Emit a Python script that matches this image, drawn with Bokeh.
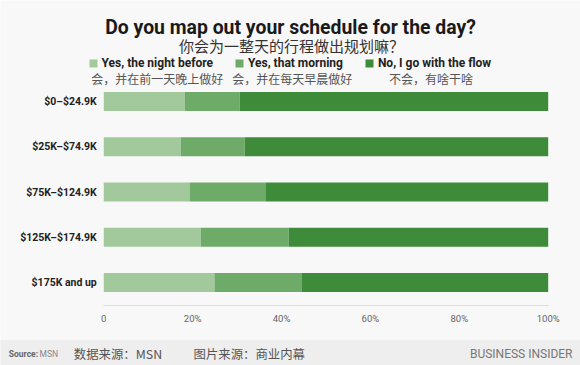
from bokeh.plotting import figure
from bokeh.models import (Range1d, Label, Legend, LegendItem,
                          BoxAnnotation, FixedTicker)
from bokeh.embed import file_html
from bokeh.resources import INLINE

# ---- data ----
categories = ["$0–$24.9K", "$25K–$74.9K", "$75K–$124.9K", "$125K–$174.9K", "$175K and up"]
night_before = [18.2, 17.3, 19.3, 21.8, 24.9]
that_morning = [12.4, 14.4, 17.2, 19.8, 19.7]
go_with_flow = [69.4, 68.3, 63.5, 58.4, 55.4]
series_keys = ["night_before", "that_morning", "go_with_flow"]
legend_en = ["Yes, the night before", "Yes, that morning", "No, I go with the flow"]
legend_zh = ["会，并在前一天晚上做好", "会，并在每天早晨做好", "不会，有啥干啥"]
tick_values = [0, 20, 40, 60, 80, 100]
tick_labels = ["0", "20%", "40%", "60%", "80%", "100%"]
title_en = "Do you map out your schedule for the day?"
title_zh = "你会为一整天的行程做出规划嘛？"

colors = ["#a1c99c", "#6eab69", "#3e8c39"]
BG = "#f8f8f8"
FONT = "Roboto"
CJK = "Noto Sans CJK SC"

positions = list(range(len(categories)))  # row index, 0 = top row
source = dict(pos=positions, night_before=night_before,
              that_morning=that_morning, go_with_flow=go_with_flow)

W, H = 580, 365
p = figure(width=W, height=H, output_backend="svg", toolbar_location=None,
           x_range=Range1d(-23.24, 107.27), y_range=Range1d(5.834, -2.232),
           min_border=0, min_border_left=0, min_border_right=0,
           min_border_top=0, min_border_bottom=0)
p.background_fill_color = BG
p.border_fill_color = BG
p.outline_line_color = None
p.xgrid.grid_line_color = None
p.ygrid.grid_line_color = None

# footer band (screen units, y measured up from the bottom of the frame)
p.add_layout(BoxAnnotation(left=-5, right=W + 5, top=25.5, bottom=-5,
                           left_units="screen", right_units="screen",
                           top_units="screen", bottom_units="screen",
                           fill_color="#eeeeee", fill_alpha=1, line_color=None,
                           level="underlay"))

renderers = p.hbar_stack(series_keys, y="pos", height=0.42, color=colors,
                         line_color=None, source=source)

# axes drawn at fixed data locations inside the frame
xa = p.xaxis[0]
xa.fixed_location = len(categories) - 0.5
xa.bounds = (0, 100)
xa.ticker = FixedTicker(ticks=tick_values)
xa.major_label_overrides = {v: l for v, l in zip(tick_values, tick_labels)}
xa.axis_line_color = "#dddddd"
xa.major_tick_line_color = None
xa.minor_tick_line_color = None
xa.major_tick_out = 0
xa.major_tick_in = 0
xa.major_label_standoff = 8
xa.major_label_text_font = FONT
xa.major_label_text_font_size = "9.5px"
xa.major_label_text_color = "#666666"

ya = p.yaxis[0]
ya.fixed_location = 0
ya.ticker = FixedTicker(ticks=positions)
ya.major_label_overrides = {i: c for i, c in zip(positions, categories)}
ya.axis_line_color = None
ya.major_tick_line_color = None
ya.minor_tick_line_color = None
ya.major_tick_out = 0
ya.major_tick_in = 0
ya.major_label_standoff = 7
ya.major_label_text_font = FONT
ya.major_label_text_font_style = "bold"
ya.major_label_text_font_size = "10.5px"
ya.major_label_text_color = "#222222"


def lab(x, y, text, size, color, font=FONT, style="normal", align="left",
        baseline="middle"):
    # x from canvas left, y from canvas top (converted to frame screen units)
    p.add_layout(Label(x=x, y=H - y, x_units="screen", y_units="screen", text=text,
                       text_font=font, text_font_size=size, text_font_style=style,
                       text_color=color, text_align=align, text_baseline=baseline))


lab(290, 26.7, title_en, "19.4px", "#1a1a1a", style="bold", align="center",
    baseline="alphabetic")
lab(291, 45, title_zh, "15px", "#333333", font=CJK, align="center")

legend = Legend(items=[LegendItem(label=t, renderers=[r]) for t, r in zip(legend_en, renderers)],
                orientation="horizontal", location=(87.5, H - 70),
                glyph_width=10, glyph_height=10, label_standoff=4, spacing=21,
                padding=0, margin=0, border_line_color=None, background_fill_alpha=0,
                label_text_font=FONT, label_text_font_style="bold",
                label_text_font_size="12px", label_text_color="#222222",
                label_height=10)
p.add_layout(legend, "center")

for x, t in zip([156.7, 291.8, 430.5], legend_zh):
    lab(x, 78.3, t, "12px", "#555555", font=CJK, align="center")

lab(8.3, 353, "Source:", "8.5px", "#666666", style="bold")
lab(39, 353, "MSN", "8.5px", "#888888")
lab(73.3, 353, "数据来源：MSN", "12.4px", "#555555", font=CJK)
lab(193, 353, "图片来源：商业内幕", "12.4px", "#555555", font=CJK)
lab(572, 353, "BUSINESS INSIDER", "12px", "#777777", align="right")

open("out.html", "w").write(file_html(p, INLINE))
